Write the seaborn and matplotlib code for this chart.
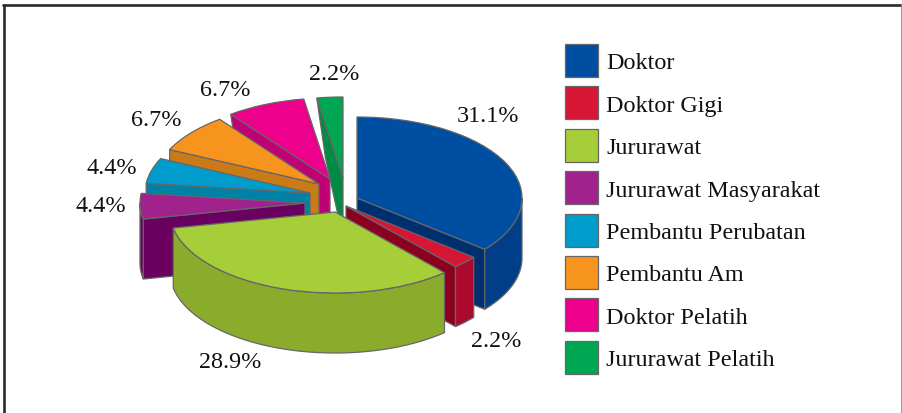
import numpy as np
import matplotlib
matplotlib.use("Agg")
import matplotlib.pyplot as plt
import seaborn as sns

# ---- data ----
categories = ["Doktor", "Doktor Gigi", "Jururawat", "Jururawat Masyarakat",
              "Pembantu Perubatan", "Pembantu Am", "Doktor Pelatih", "Jururawat Pelatih"]
percentages = [31.1, 2.2, 28.9, 4.4, 4.4, 6.7, 6.7, 2.2]

# ---- style ----
top_colors = ["#004EA2", "#D71635", "#A6CE39", "#A1228C", "#009CCB", "#F7941D", "#EC008C", "#00A651"]
rim_colors = ["#003F87", "#AC0A2C", "#8BAB2D", "#6E0062", "#0082A8", "#CA7A17", "#C00075", "#008A43"]
wall_colors = ["#002F70", "#8A001E", "#8BAB2D", "#6A0060", "#0082A8", "#CA7A17", "#C00075", "#008A43"]
edge = "#666666"

# ---- layout (pixels of the 903x414 canvas) ----
W, H = 903, 414
SQUASH = 0.491
RADIUS = 165
DEPTH = 60
slice_centers = [(357, 199), (346, 207), (335, 213), (305, 204),
                 (310, 194), (319, 185), (330, 180), (343, 179)]
draw_order = [7, 6, 5, 4, 3, 0, 1, 2]
label_positions = [(488, 117), (496, 342), (230, 363), (101, 207),
                   (112, 169), (156, 121), (225, 90), (334, 75)]


def py(y):
    return (H - y) / SQUASH


sns.set_theme(style="white")
plt.rcParams["font.family"] = ["Liberation Serif", "DejaVu Serif"]
FS = 17.4
FS_PX = FS * 100 / 72

fig, ax = plt.subplots(figsize=(W / 100, H / 100), dpi=100)
fig.patch.set_facecolor("white")

wedges, _ = ax.pie(percentages, colors=sns.color_palette(top_colors), startangle=90,
                   counterclock=False, radius=RADIUS,
                   wedgeprops=dict(edgecolor=edge, linewidth=0.9))

ax.set_position([0, 0, 1, 1])
ax.set_aspect("auto")
ax.set_xlim(0, W)
ax.set_ylim(0, H / SQUASH)
ax.set_xticks([])
ax.set_yticks([])

dz = DEPTH / SQUASH


def outer(c, a):
    r = np.radians(a)
    return c[0] + RADIUS * np.cos(r), c[1] + RADIUS * np.sin(r)


def side_wall(c, a, color, z):
    ox, oy = outer(c, a)
    s = np.sin(np.radians(a))
    pull = 0.36 * max(0.0, s) ** 6     # far verticals converge slightly
    bx = ox + (c[0] - ox) * pull
    ax.fill([c[0], ox, bx, c[0]], [c[1], oy, oy - dz, c[1] - dz],
            facecolor=color, edgecolor=edge, linewidth=0.9, zorder=z)


for rank, i in enumerate(draw_order):
    w = wedges[i]
    center = (slice_centers[i][0], py(slice_centers[i][1]))
    w.set_center(center)
    w.set_radius(RADIUS)
    z = 2 + rank * 3
    t1, t2 = w.theta1, w.theta2

    if np.cos(np.radians(t1)) > 1e-6:
        side_wall(center, t1, wall_colors[i], z)
    if np.cos(np.radians(t2)) < -1e-6:
        side_wall(center, t2, wall_colors[i], z)

    # outer rim: only the part of the arc facing the viewer
    lo = (t1 + 180) % 360 - 180
    hi = lo + (t2 - t1)
    cuts = [(max(lo, -180), min(hi, 0)), (max(lo + 360, -180), min(hi + 360, 0)),
            (max(lo - 360, -180), min(hi - 360, 0))]
    for a, b in cuts:
        if b > a:
            ang = np.linspace(a, b, 80)
            xs = center[0] + RADIUS * np.cos(np.radians(ang))
            ys = center[1] + RADIUS * np.sin(np.radians(ang))
            ax.fill(np.r_[xs, xs[::-1]], np.r_[ys, ys[::-1] - dz],
                    facecolor=rim_colors[i], edgecolor=edge, linewidth=0.9, zorder=z + 1)
    w.set_zorder(z + 2)

for v, (x, y) in zip(percentages, label_positions):
    ax.text(x, py(y), f"{v}%", ha="center", va="center", fontsize=FS, color="#111111", zorder=60)

# outer frame (open at the bottom)
ax.plot([4, 4], [py(5.5), py(414)], color="#2A2A2A", lw=1.9, zorder=70, clip_on=False)
ax.plot([3, 903], [py(6), py(6)], color="#2A2A2A", lw=1.9, zorder=70, clip_on=False)
ax.plot([901.8, 901.8], [py(6), py(414)], color="#8C8C8C", lw=1.2, zorder=70, clip_on=False)

leg = ax.legend(wedges, categories, loc="upper left", frameon=False,
                bbox_to_anchor=(565 / W, 1 - 45 / H), borderaxespad=0, borderpad=0,
                fontsize=FS, handlelength=33 / FS_PX, handleheight=1.73,
                handletextpad=0.33, labelspacing=0.385)
leg.set_zorder(80)
for t in leg.get_texts():
    t.set_color("#111111")

fig.savefig("out.png", dpi=100, facecolor="white")
